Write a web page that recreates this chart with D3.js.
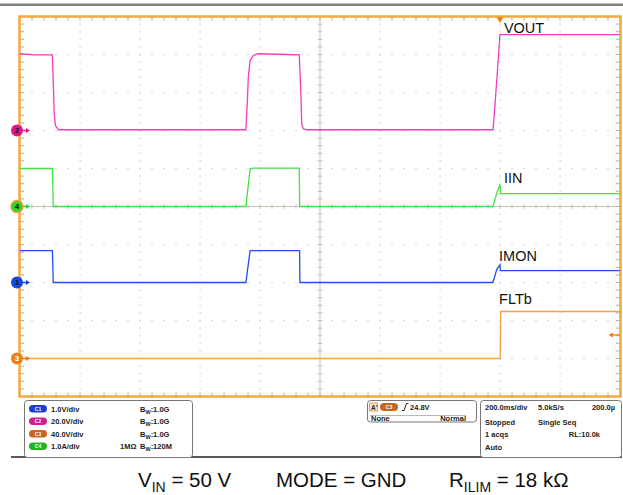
<!DOCTYPE html>
<html>
<head>
<meta charset="utf-8">
<script src="https://cdn.jsdelivr.net/npm/d3@7"></script>
<style>
  html, body { margin: 0; padding: 0; background: #fff; }
  svg { display: block; }
</style>
</head>
<body>
<script>
const width = 623;
const height = 495;

// time in ms, values in channel units
const voutTime = [0, 47, 108, 111, 114, 118, 128, 753, 758, 761, 767, 778, 794, 887, 931, 937, 939, 944, 956, 1577, 1590, 1600, 2000];
const voutValue = [40.4, 39.8, 39.8, 24.6, 8.8, 2.6, 0.4, 0.4, 15.8, 28, 36.8, 39.5, 40.4, 40, 39.8, 15.8, 3.5, 0.9, 0.4, 0.4, 28, 50.5, 50.5];

const iinTime = [0, 108, 111, 753, 767, 777, 931, 932, 1576, 1580, 1583, 1590, 1600, 1602, 2000];
const iinValue = [1.0, 1.0, 0, 0, 0.99, 1.01, 1.01, 0, 0, 0.08, 0.18, 0.37, 0.58, 0.34, 0.34];

const imonTime = [0, 108, 111, 753, 767, 932, 933, 1576, 1581, 1589, 1600, 1601, 2000];
const imonValue = [0.84, 0.84, 0, 0, 0.84, 0.84, 0, 0, 0.12, 0.34, 0.47, 0.31, 0.31];

const fltbTime = [0, 1601, 1602, 2000];
const fltbValue = [0, 0, 49.5, 49.5];

const traceLabels = ["VOUT", "IIN", "IMON", "FLTb"];
const channelNames = ["C1", "C2", "C3", "C4"];
const channelScales = ["1.0V/div", "20.0V/div", "40.0V/div", "1.0A/div"];
const channelBw = ["1.0G", "1.0G", "1.0G", "120M"];
const triggerLevel = 24.8;
const triggerTime = 1600;
const timeInfo = [["200.0ms/div", "5.0kS/s", "200.0\u00b5"], ["Stopped", "Single Seq", ""], ["1 acqs", "", "RL:10.0k"], ["Auto", "", ""]];

const COLORS = { C1: "#1f4ff0", C2: "#f23cc0", C3: "#f5a048", C4: "#44e044" };
const PILL = { C1: "#1a3fd0", C2: "#d0208f", C3: "#c8651e", C4: "#22b422" };
const MARK = { C1: "#1448e0", C2: "#e0158a", C3: "#e8801e", C4: "#2ed42e" };

const x = d3.scaleLinear().domain([0, 2000]).range([20, 620]);
const yDiv = d3.scaleLinear().domain([-5, 5]).range([396.5, 16.5]);

// offset in divisions and units per division, per channel
const chan = {
  C1: { offset: -2, perDiv: 1 },
  C2: { offset: 2, perDiv: 20 },
  C3: { offset: -4, perDiv: 40 },
  C4: { offset: 0, perDiv: 1 }
};
function yOf(c, v) { return yDiv(chan[c].offset + v / chan[c].perDiv); }

const svg = d3.select("body").append("svg")
  .attr("width", width).attr("height", height)
  .style("font-family", "'Liberation Sans', Arial, sans-serif");

// top grey rule
svg.append("rect").attr("x", 0).attr("y", 3.5).attr("width", width).attr("height", 2.5).attr("fill", "#7f7f7f");

const grid = svg.append("g");
const majorT = d3.range(0, 2001, 200);
const minorT = d3.range(0, 2001, 40);
const majorD = d3.range(-5, 5.01, 1);
const minorD = d3.range(-5, 5.01, 0.2);

// dotted grid lines
majorT.filter(t => t > 0 && t < 2000 && t !== 1000).forEach(t => {
  grid.selectAll(null).data(minorD.filter(d => d > -5 && d < 5)).join("rect")
    .attr("x", x(t) - 0.5).attr("y", d => yDiv(d) - 0.75)
    .attr("width", 1.2).attr("height", 1.5).attr("fill", "#cfcfcf");
});
majorD.filter(d => d > -5 && d < 5 && d !== 0).forEach(d => {
  grid.selectAll(null).data(minorT.filter(t => t > 0 && t < 2000)).join("rect")
    .attr("x", t => x(t) - 0.75).attr("y", yDiv(d) - 0.5)
    .attr("width", 1.5).attr("height", 1.2).attr("fill", "#cfcfcf");
});

// centre cross with ticks
const tan = "#c9bfb2";
grid.append("line").attr("x1", x(1000)).attr("x2", x(1000)).attr("y1", yDiv(5)).attr("y2", yDiv(-5)).attr("stroke", tan);
grid.append("line").attr("x1", x(0)).attr("x2", x(2000)).attr("y1", yDiv(0)).attr("y2", yDiv(0)).attr("stroke", tan);
grid.selectAll(null).data(minorD).join("line")
  .attr("x1", x(1000) - 2.5).attr("x2", x(1000) + 2.5)
  .attr("y1", d => yDiv(d)).attr("y2", d => yDiv(d)).attr("stroke", tan);
grid.selectAll(null).data(minorT).join("line")
  .attr("x1", t => x(t)).attr("x2", t => x(t))
  .attr("y1", yDiv(0) - 2.5).attr("y2", yDiv(0) + 2.5).attr("stroke", tan);

// border ticks
const tickCol = "#b5aca2";
grid.selectAll(null).data(minorD).join("line")
  .attr("x1", x(0)).attr("x2", x(0) + 4).attr("y1", d => yDiv(d)).attr("y2", d => yDiv(d)).attr("stroke", tickCol);
grid.selectAll(null).data(minorD).join("line")
  .attr("x1", x(2000) - 4).attr("x2", x(2000)).attr("y1", d => yDiv(d)).attr("y2", d => yDiv(d)).attr("stroke", tickCol);
grid.selectAll(null).data(minorT).join("line")
  .attr("x1", t => x(t)).attr("x2", t => x(t)).attr("y1", yDiv(5)).attr("y2", yDiv(5) + 4).attr("stroke", tickCol);
grid.selectAll(null).data(minorT).join("line")
  .attr("x1", t => x(t)).attr("x2", t => x(t)).attr("y1", yDiv(-5) - 4).attr("y2", yDiv(-5)).attr("stroke", tickCol);

// orange frame
svg.append("rect").attr("x", 19.5).attr("y", 16.5).attr("width", 601).attr("height", 380)
  .attr("fill", "none").attr("stroke", "#f2aa40").attr("stroke-width", 2.5);

// traces
const traces = [
  { c: "C2", t: voutTime, v: voutValue },
  { c: "C4", t: iinTime, v: iinValue },
  { c: "C1", t: imonTime, v: imonValue },
  { c: "C3", t: fltbTime, v: fltbValue }
];
traces.forEach(tr => {
  const pts = tr.t.map((t, i) => [t, tr.v[i]]);
  const line = d3.line().x(d => x(d[0])).y(d => yOf(tr.c, d[1]));
  svg.append("path").datum(pts).attr("d", line)
    .attr("fill", "none").attr("stroke", COLORS[tr.c]).attr("stroke-width", 1.3);
});

// trace labels
const labelPos = [[triggerTime + 13, yOf("C2", 50.5) - 2], [triggerTime + 13, yOf("C4", 0.58) - 1], [triggerTime - 3, yOf("C1", 0.47) - 4], [triggerTime - 3, yOf("C3", 49.5) - 7]];
traceLabels.forEach((s, i) => {
  svg.append("text").attr("x", x(labelPos[i][0])).attr("y", labelPos[i][1])
    .attr("font-size", 14.5).attr("fill", "#111").text(s);
});

// ground markers on the left
["C2", "C4", "C1", "C3"].forEach(c => {
  const gy = yOf(c, 0);
  svg.append("line").attr("x1", 21).attr("x2", 27).attr("y1", gy).attr("y2", gy).attr("stroke", MARK[c]).attr("stroke-width", 1.5);
  svg.append("path").attr("d", `M26,${gy - 2.5}L30,${gy}L26,${gy + 2.5}Z`).attr("fill", MARK[c]);
  svg.append("circle").attr("cx", 17).attr("cy", gy).attr("r", 6)
    .attr("fill", MARK[c]).attr("stroke", c === "C4" ? "#f2a030" : "none").attr("stroke-width", 1.5);
  svg.append("text").attr("x", 17).attr("y", gy + 2.7).attr("text-anchor", "middle")
    .attr("font-size", 8).attr("font-weight", "bold").attr("fill", c === "C3" ? "#fff" : "#111").text(c.slice(1));
});

// trigger markers
svg.append("path").attr("d", `M${x(triggerTime) - 3.5},17L${x(triggerTime) + 3.5},17L${x(triggerTime)},23Z`).attr("fill", "#f08010");
const ty = yOf("C3", triggerLevel);
svg.append("line").attr("x1", 612).attr("x2", 620).attr("y1", ty).attr("y2", ty).attr("stroke", "#f08010").attr("stroke-width", 1.3);
svg.append("path").attr("d", `M608.5,${ty}L613,${ty - 2.5}L613,${ty + 2.5}Z`).attr("fill", "#f08010");

// info panels
const info = svg.append("g").attr("font-weight", "bold").attr("font-size", 7.5).attr("fill", "#222");
info.append("line").attr("x1", 11).attr("x2", 622).attr("y1", 457).attr("y2", 457).attr("stroke", "#222").attr("stroke-width", 1.5);
info.append("rect").attr("x", 24.5).attr("y", 400.5).attr("width", 168).attr("height", 57).attr("rx", 3)
  .attr("fill", "#fff").attr("stroke", "#777");
const rowY = [411.5, 424, 436.5, 449];
channelNames.forEach((c, i) => {
  info.append("rect").attr("x", 29).attr("y", rowY[i] - 6.5).attr("width", 18).attr("height", 7.5).attr("rx", 3.7).attr("fill", PILL[c]);
  info.append("text").attr("x", 38).attr("y", rowY[i] - 0.8).attr("text-anchor", "middle").attr("font-size", 5).attr("fill", "#fff").text(c);
  info.append("text").attr("x", 51).attr("y", rowY[i]).text(channelScales[i]);
  const bw = info.append("text").attr("x", 140).attr("y", rowY[i]);
  bw.append("tspan").text("B");
  bw.append("tspan").attr("dy", 2).attr("font-size", 5.5).text("W");
  bw.append("tspan").attr("dy", -2).text(":" + channelBw[i]);
  if (channelNames[i] === "C4") {
    info.append("text").attr("x", 120).attr("y", rowY[i]).text("1M\u03a9");
  }
});

// trigger panel
info.append("rect").attr("x", 367.5).attr("y", 400.5).attr("width", 109).attr("height", 21.5).attr("rx", 3)
  .attr("fill", "#fff").attr("stroke", "#777");
info.append("rect").attr("x", 369.5).attr("y", 403).attr("width", 8).attr("height", 8).attr("fill", "#fbe6c8").attr("stroke", "#f2a030");
info.append("text").attr("x", 371).attr("y", 410).attr("font-size", 6.5).text("A'");
info.append("rect").attr("x", 380).attr("y", 403).attr("width", 18).attr("height", 8).attr("rx", 4).attr("fill", PILL.C3);
info.append("text").attr("x", 389).attr("y", 409.3).attr("text-anchor", "middle").attr("font-size", 5).attr("fill", "#fff").text("C3");
info.append("path").attr("d", "M402,410.5L404,410.5L406.5,403.5L408.5,403.5").attr("fill", "none").attr("stroke", "#222").attr("stroke-width", 1);
info.append("text").attr("x", 410).attr("y", 409.5).text(triggerLevel.toFixed(1) + "V");
info.append("line").attr("x1", 370).attr("x2", 466).attr("y1", 415.5).attr("y2", 415.5).attr("stroke", "#888").attr("stroke-width", 0.6);
info.append("text").attr("x", 371).attr("y", 421).text("None");
info.append("text").attr("x", 466).attr("y", 421).attr("text-anchor", "end").text("Normal");

// timebase panel
info.append("rect").attr("x", 480.5).attr("y", 400.5).attr("width", 141).attr("height", 57).attr("rx", 3)
  .attr("fill", "#fff").attr("stroke", "#777");
const timeRowY = [409.5, 424.5, 437, 449.5];
timeInfo.forEach((row, i) => {
  info.append("text").attr("x", 485).attr("y", timeRowY[i]).text(row[0]);
  info.append("text").attr("x", 538).attr("y", timeRowY[i]).text(row[1]);
  info.append("text").attr("x", i === 0 ? 615 : 600).attr("y", timeRowY[i]).attr("text-anchor", "end").text(row[2]);
});

// caption
const cap = svg.append("g").attr("font-size", 20.5).attr("fill", "#111");
const t1 = cap.append("text").attr("x", 138).attr("y", 487);
t1.append("tspan").text("V");
t1.append("tspan").attr("dy", 5).attr("font-size", 14).text("IN");
t1.append("tspan").attr("dy", -5).text(" = 50 V");
cap.append("text").attr("x", 276).attr("y", 487).text("MODE = GND");
const t3 = cap.append("text").attr("x", 449).attr("y", 487);
t3.append("tspan").text("R");
t3.append("tspan").attr("dy", 5).attr("font-size", 14).text("ILIM");
t3.append("tspan").attr("dy", -5).text(" = 18 k\u03a9");
</script>
</body>
</html>
